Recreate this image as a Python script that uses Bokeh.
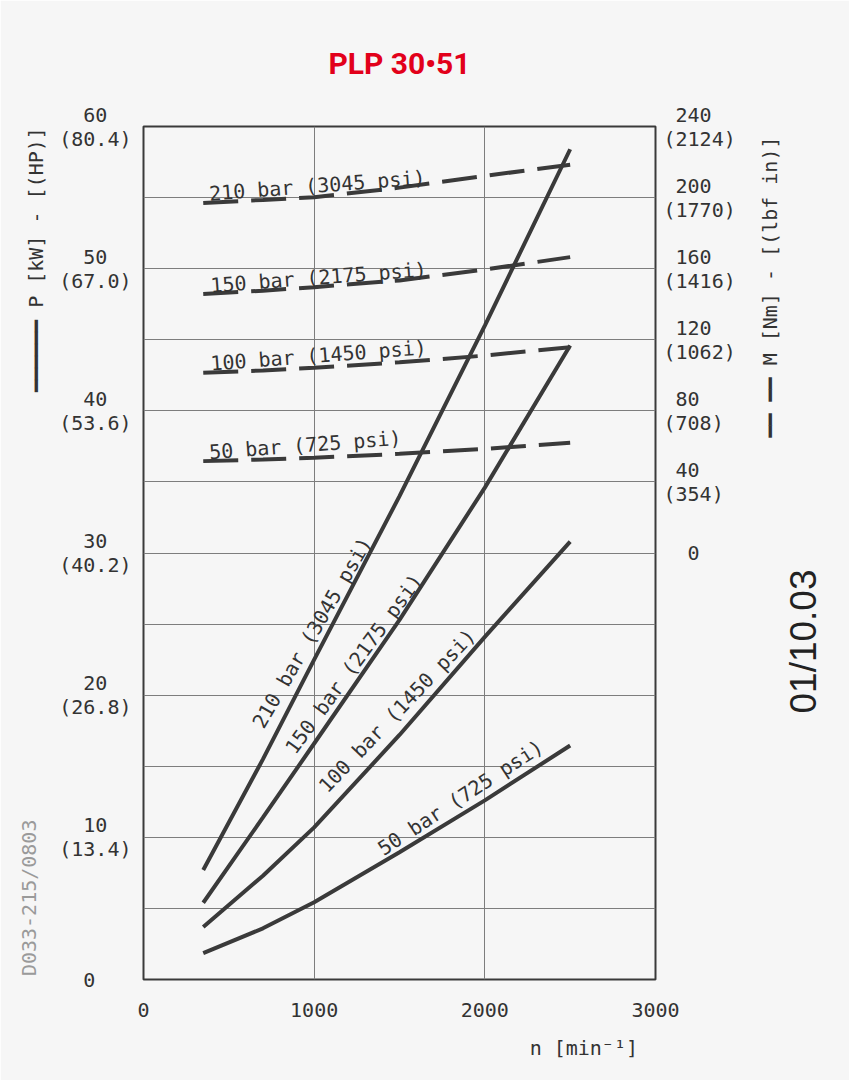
import math
from bokeh.plotting import figure
from bokeh.models import Range1d, LinearAxis, FixedTicker
from bokeh.core.properties import value
from bokeh.embed import file_html
from bokeh.resources import INLINE

# ---------------- data ----------------
speed = [350, 700, 1000, 1500, 2000, 2500]                 # n [min^-1]
pressure_labels = ["210 bar (3045 psi)", "150 bar (2175 psi)",
                   "100 bar (1450 psi)", "50 bar (725 psi)"]
power_210 = [7.7, 15.5, 22.5, 34.0, 46.0, 58.4]            # P [kW]
power_150 = [5.4, 11.4, 16.6, 25.3, 34.6, 44.6]
power_100 = [3.7, 7.3, 10.7, 17.2, 24.1, 30.8]
power_50 = [1.85, 3.6, 5.44, 8.95, 12.6, 16.46]
torque_210 = [197.0, 198.7, 200.2, 205.6, 212.2, 218.5]    # M [Nm]
torque_150 = [145.8, 147.6, 149.6, 153.4, 159.5, 166.5]
torque_100 = [101.4, 102.7, 104.2, 107.3, 111.1, 115.8]
torque_50 = [51.7, 52.6, 53.6, 55.8, 58.6, 62.0]

kw_ticks = [0, 10, 20, 30, 40, 50, 60]
hp_values = ["", "13.4", "26.8", "40.2", "53.6", "67.0", "80.4"]
nm_ticks = [0, 40, 80, 120, 160, 200, 240]
lbfin_values = ["", "354", "708", "1062", "1416", "1770", "2124"]
rpm_ticks = [0, 1000, 2000, 3000]

TITLE = "PLP 30\u202251"
X_TITLE = "n [min\u207b\u00b9]"
P_TITLE = "\u2501" * 6 + " P [kW] - [(HP)]"
M_TITLE = "\u2501\u2501 \u2501\u2501 M [Nm] - [(lbf in)]"
DRAWING_NO = "D033-215/0803"
DATE = "01/10.03"

# ---------------- placement (layout, not data) ----------------
power_label_anchor = [(988, 24.4, 1.045), (1232, 22.2, 0.94),
                      (1486, 18.9, 0.81), (1857, 12.8, 0.58)]
torque_label_anchor = [(385, 202.2), (392, 150.5), (392, 106.6), (385, 56.7)]
torque_label_angle = 0.075

# ---------------- styles ----------------
BG = "#f6f6f6"
INK = "#3a3a3a"
TXT = "#333333"
GRID = "#7d7d7d"
MONO = "DejaVu Sans Mono"
NB = "\u00a0"
ROT = math.pi / 2

W, H = 849, 1080
FL, FT, FW, FH = 143, 126, 512, 853

p = figure(width=W, height=H, output_backend="svg", toolbar_location=None,
           x_range=Range1d(0, 3000), y_range=Range1d(0, 60),
           min_border_left=FL, min_border_top=FT,
           min_border_right=W - FL - FW, min_border_bottom=H - FT - FH,
           background_fill_color=BG, border_fill_color=BG)
p.extra_y_ranges = {"torque": Range1d(-240, 240)}
p.outline_line_color = INK
p.outline_line_width = 2
p.title.text = ""
p.title.visible = False

# grids
p.xgrid.ticker = FixedTicker(ticks=[1000, 2000])
p.ygrid.ticker = FixedTicker(ticks=list(range(5, 60, 5)))
for g in (p.xgrid, p.ygrid):
    g.grid_line_color = GRID
    g.grid_line_width = 1


def stack(top, bottom):
    w = len(bottom)
    left = (w - len(top)) // 2
    right = w - len(top) - left
    return NB * left + top + NB * right + "\n" + bottom


def style_axis(ax, font=MONO, size="20px", color=TXT, style="normal"):
    ax.major_tick_in = 0
    ax.major_tick_out = 0
    ax.minor_tick_in = 0
    ax.minor_tick_out = 0
    ax.axis_line_color = None
    ax.major_label_text_font = font
    ax.major_label_text_font_size = size
    ax.major_label_text_font_style = style
    ax.major_label_text_color = color
    ax.major_label_text_line_height = 1.0


def text_axis(tick, text, standoff, orientation="horizontal", **kw):
    """An axis carrying a single text at a tick position (used for titles)."""
    style = {k: kw.pop(k) for k in ("font", "size", "color", "style") if k in kw}
    ax = LinearAxis(ticker=FixedTicker(ticks=[tick]), **kw)
    style_axis(ax, **style)
    ax.major_label_overrides = {tick: text}
    ax.major_label_standoff = standoff
    ax.major_label_orientation = orientation
    return ax


# bottom axis
xa = p.xaxis[0]
xa.ticker = FixedTicker(ticks=rpm_ticks)
style_axis(xa)
xa.major_label_standoff = 23

# left axis (power)
ya = p.yaxis[0]
ya.ticker = FixedTicker(ticks=kw_ticks)
style_axis(ya)
ya.major_label_standoff = 12
ov = {}
for t, hp in zip(kw_ticks, hp_values):
    ov[t] = stack(str(t), "(" + hp + ")") if hp else NB * 2 + str(t) + NB * 3
ya.major_label_overrides = ov

# right axis (torque)
ra = LinearAxis(y_range_name="torque", ticker=FixedTicker(ticks=nm_ticks))
style_axis(ra)
ra.major_label_standoff = 8
ov = {}
for t, lb in zip(nm_ticks, lbfin_values):
    ov[t] = stack(str(t), "(" + lb + ")") if lb else NB * 2 + str(t)
ra.major_label_overrides = ov
p.add_layout(ra, "right")

# titles carried by label-only axes
p.add_layout(text_axis(1500, TITLE, 46, font="Roboto", size="30px",
                       color="#e2001a", style="bold"), "above")
p.add_layout(text_axis(2580, X_TITLE, 16), "below")
p.add_layout(text_axis(59.95, P_TITLE, 20, ROT), "left")
p.add_layout(text_axis(11.25, DRAWING_NO, -19, ROT, color="#9a9a9a"), "left")
p.add_layout(text_axis(38.12, M_TITLE, 32, ROT), "right")
p.add_layout(text_axis(18.71, DATE, 6, ROT, font="Liberation Sans", size="37px",
                       color="#222222"), "right")

# power curves (solid)
for ys in (power_210, power_150, power_100, power_50):
    p.line(speed, ys, line_color=INK, line_width=4)

# torque curves (dashed)
for ys in (torque_210, torque_150, torque_100, torque_50):
    p.line(speed, ys, y_range_name="torque", line_color=INK, line_width=4,
           line_dash="35 13", line_cap="butt")

# curve labels
p.text(x=[a[0] for a in power_label_anchor], y=[a[1] for a in power_label_anchor],
       angle=[a[2] for a in power_label_anchor], text=pressure_labels,
       text_font=value(MONO), text_font_size="20px", text_color=TXT,
       text_align="center", text_baseline="middle")
p.text(x=[a[0] for a in torque_label_anchor], y=[a[1] for a in torque_label_anchor],
       angle=torque_label_angle, text=pressure_labels, y_range_name="torque",
       text_font=value(MONO), text_font_size="20px", text_color=TXT,
       text_align="left", text_baseline="alphabetic")

open("out.html", "w").write(file_html(p, INLINE))
